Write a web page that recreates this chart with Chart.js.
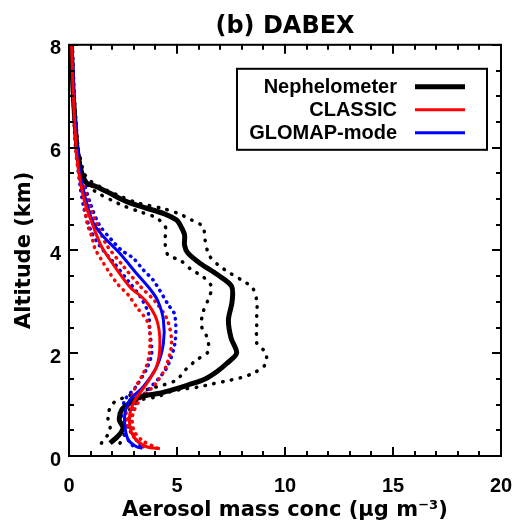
<!DOCTYPE html>
<html>
<head>
<meta charset="utf-8">
<script src="https://cdn.jsdelivr.net/npm/chart.js@4"></script>
<style>
  html, body { margin: 0; background: #fff; }
</style>
</head>
<body>
<canvas id="profile" width="518" height="531"></canvas>
<script>
// series names and colours
const seriesNames = ['Nephelometer', 'CLASSIC', 'GLOMAP-mode'];
const seriesColors = ['#000000', '#ff0000', '#0000ff'];

// axis ranges / tick steps
const xRange = [0, 20];
const yRange = [0, 8];
const xMajor = 5, xMinor = 1;
const yMajor = 2, yMinor = 0.5;

// Nephelometer (mean, lower, upper), altitude in km, mass in ug m-3
const nephAlt = [0.25, 0.4, 0.55, 0.7, 0.9, 1.03, 1.15, 1.22, 1.3, 1.38, 1.5, 1.64, 1.8, 2.0, 2.3, 2.65, 3.0, 3.3, 3.52, 3.75, 3.95, 4.1, 4.3, 4.45, 4.59, 4.72, 4.82, 4.95, 5.11, 5.24, 5.31, 5.5, 5.66, 6.0, 6.5, 7.0, 7.5, 8.0];
const nephMass = [1.9, 2.3, 2.5, 2.33, 2.44, 2.82, 3.3, 4.2, 4.9, 5.5, 6.3, 6.84, 7.3, 7.76, 7.5, 7.38, 7.55, 7.53, 6.9, 6.06, 5.5, 5.35, 5.35, 5.2, 4.98, 4.36, 3.6, 2.67, 1.9, 1.28, 0.82, 0.6, 0.5, 0.37, 0.28, 0.2, 0.15, 0.1];
const nephLoAlt = [0.25, 0.5, 0.76, 1.0, 1.13, 1.25, 1.32, 1.38, 1.48, 1.69, 1.87, 2.03, 2.3, 2.52, 2.78, 3.04, 3.29, 3.49, 3.62, 3.81, 3.91, 4.2, 4.43, 4.63, 4.75, 4.87, 4.95, 5.1, 5.25, 5.4, 5.6, 6.0, 7.0, 8.0];
const nephLo = [1.5, 1.9, 1.8, 1.98, 2.5, 3.3, 3.83, 4.36, 4.98, 5.42, 5.91, 6.44, 6.4, 6.14, 6.19, 6.44, 6.6, 6.2, 5.68, 5.14, 4.58, 4.44, 4.49, 4.06, 3.3, 2.5, 2.1, 1.4, 0.9, 0.7, 0.5, 0.35, 0.2, 0.1];
const nephHiAlt = [0.25, 0.45, 0.65, 0.85, 1.0, 1.09, 1.15, 1.25, 1.3, 1.34, 1.4, 1.46, 1.52, 1.61, 1.77, 2.0, 2.2, 2.45, 2.74, 3.0, 3.27, 3.42, 3.56, 3.72, 3.91, 4.2, 4.46, 4.59, 4.72, 4.82, 4.92, 5.05, 5.2, 5.35, 5.5, 5.75, 6.0, 7.0, 8.0];
const nephHi = [2.36, 2.6, 2.8, 2.75, 3.0, 3.29, 4.06, 4.68, 5.28, 5.97, 6.6, 7.3, 7.92, 8.52, 9.07, 9.12, 8.69, 8.69, 8.69, 8.7, 8.5, 8.0, 7.45, 6.9, 6.48, 6.3, 6.2, 5.68, 5.05, 4.3, 3.2, 2.4, 1.6, 1.0, 0.7, 0.55, 0.4, 0.22, 0.12];

// CLASSIC
const classicAlt = [0.14, 0.18, 0.34, 0.57, 0.83, 1.09, 1.41, 1.74, 2.19, 2.65, 3.03, 3.29, 3.68, 4.07, 4.46, 4.92, 5.37, 5.76, 6.34, 7.0, 8.0];
const classicMass = [4.21, 3.6, 3.06, 2.82, 2.82, 3.06, 3.6, 4.06, 4.21, 4.06, 3.52, 2.82, 2.13, 1.51, 1.13, 0.74, 0.51, 0.38, 0.28, 0.2, 0.12];
const classicLoAlt = [0.18, 0.38, 0.6, 0.85, 1.1, 1.32, 1.61, 1.87, 2.19, 2.58, 2.9, 3.13, 3.33, 3.55, 3.81, 4.04, 4.27, 4.56, 5.11, 5.5, 6.0, 7.0, 8.0];
const classicLo = [3.44, 2.98, 2.7, 2.65, 2.85, 3.06, 3.44, 3.67, 3.75, 3.67, 3.13, 2.75, 2.28, 1.9, 1.51, 1.2, 1.05, 0.82, 0.66, 0.45, 0.3, 0.18, 0.1];
const classicHiAlt = [0.15, 0.3, 0.5, 0.8, 1.1, 1.4, 1.75, 2.2, 2.65, 3.0, 3.3, 3.7, 4.1, 4.5, 4.9, 5.4, 5.8, 6.5, 7.0, 8.0];
const classicHi = [4.1, 3.4, 3.0, 2.95, 3.3, 4.0, 4.5, 4.75, 4.55, 4.0, 3.3, 2.5, 1.75, 1.3, 0.9, 0.6, 0.45, 0.3, 0.22, 0.14];

// GLOMAP-mode
const glomapAlt = [0.15, 0.18, 0.31, 0.57, 0.83, 1.09, 1.35, 1.74, 2.19, 2.65, 3.03, 3.25, 3.55, 3.94, 4.27, 4.53, 4.92, 5.5, 6.0, 7.0, 8.0];
const glomapMass = [3.4, 3.13, 2.75, 2.59, 2.59, 2.82, 3.44, 4.06, 4.37, 4.37, 4.1, 3.75, 3.13, 2.36, 1.59, 1.13, 0.82, 0.51, 0.38, 0.22, 0.15];
const glomapLoAlt = [0.2, 0.4, 0.6, 0.85, 1.1, 1.35, 1.7, 2.0, 2.39, 2.78, 3.1, 3.4, 3.75, 4.1, 4.4, 4.8, 5.3, 6.0, 7.0, 8.0];
const glomapLo = [2.95, 2.6, 2.45, 2.45, 2.6, 3.1, 3.6, 3.83, 3.75, 3.67, 3.3, 2.75, 2.1, 1.4, 1.0, 0.7, 0.5, 0.33, 0.2, 0.12];
const glomapHiAlt = [0.2, 0.4, 0.7, 1.0, 1.3, 1.7, 2.19, 2.74, 2.94, 3.42, 3.62, 3.85, 4.0, 4.2, 4.5, 4.9, 5.4, 6.0, 7.0, 8.0];
const glomapHi = [3.3, 3.0, 2.85, 3.05, 3.7, 4.5, 4.9, 4.9, 4.6, 3.9, 3.44, 2.97, 2.44, 1.98, 1.4, 1.0, 0.65, 0.42, 0.25, 0.16];

const toPoints = (mass, alt) => mass.map((m, i) => ({ x: m, y: alt[i] }));

const line = (data, color, width, dash, order) => ({
  data,
  borderColor: color,
  borderWidth: width,
  borderDash: dash,
  borderCapStyle: dash.length ? 'round' : 'butt',
  order,
  showLine: true,
  pointRadius: 0,
  tension: 0.3,
  fill: false,
});

const tickFont = { family: 'Liberation Sans', size: 20, weight: 'bold' };
const titleFont = { family: 'DejaVu Sans', size: 21, weight: 'bold' };

// inward IDL-style ticks on all four sides + frame
const frameTicks = {
  id: 'frameTicks',
  afterDatasetsDraw(chart) {
    const { ctx, chartArea: a, scales: { x, y } } = chart;
    ctx.save();
    ctx.strokeStyle = '#000';
    ctx.lineWidth = 2;
    const seg = (x0, y0, x1, y1) => {
      ctx.beginPath();
      ctx.moveTo(x0, y0);
      ctx.lineTo(x1, y1);
      ctx.stroke();
    };
    for (let v = xRange[0]; v <= xRange[1] + 1e-9; v += xMinor) {
      const px = Math.round(x.getPixelForValue(v));
      const len = Math.abs(v % xMajor) < 1e-9 ? 9 : 5;
      seg(px, a.bottom, px, a.bottom - len);
      seg(px, a.top, px, a.top + len);
    }
    for (let v = yRange[0]; v <= yRange[1] + 1e-9; v += yMinor) {
      const py = Math.round(y.getPixelForValue(v));
      const len = Math.abs(v % yMajor) < 1e-9 ? 9 : 5;
      seg(a.left, py, a.left + len, py);
      seg(a.right, py, a.right - len, py);
    }
    ctx.strokeRect(a.left, a.top, a.width, a.height);
    ctx.restore();
  },
};

// boxed legend with labels right-aligned and line samples to the right
const boxLegend = {
  id: 'boxLegend',
  afterDraw(chart) {
    const { ctx, chartArea: a } = chart;
    const bx = a.left + 168, by = a.top + 24;
    ctx.save();
    ctx.fillStyle = '#fff';
    ctx.fillRect(bx, by, 250, 81);
    ctx.strokeStyle = '#000';
    ctx.lineWidth = 2;
    ctx.strokeRect(bx, by, 250, 81);
    ctx.font = 'bold 20px "Liberation Sans"';
    ctx.textAlign = 'right';
    ctx.textBaseline = 'middle';
    seriesNames.forEach((name, i) => {
      const ty = by + 18 + i * 23;
      ctx.fillStyle = '#000';
      ctx.fillText(name, bx + 160, ty + 1);
      ctx.strokeStyle = seriesColors[i];
      ctx.lineWidth = i === 0 ? 5 : 3;
      ctx.beginPath();
      ctx.moveTo(bx + 178, ty);
      ctx.lineTo(bx + 228, ty);
      ctx.stroke();
    });
    ctx.restore();
  },
};

new Chart(document.getElementById('profile'), {
  type: 'scatter',
  data: {
    datasets: [
      line(toPoints(nephLo, nephLoAlt), seriesColors[0], 3.5, [0.5, 8.5], 9),
      line(toPoints(nephHi, nephHiAlt), seriesColors[0], 3.5, [0.5, 8.5], 8),
      line(toPoints(glomapLo, glomapLoAlt), seriesColors[2], 3.5, [0.5, 6], 7),
      line(toPoints(glomapHi, glomapHiAlt), seriesColors[2], 3.5, [0.5, 6], 6),
      line(toPoints(classicLo, classicLoAlt), seriesColors[1], 3.5, [0.5, 6], 5),
      line(toPoints(classicHi, classicHiAlt), seriesColors[1], 3.5, [0.5, 6], 4),
      line(toPoints(nephMass, nephAlt), seriesColors[0], 5, [], 3),
      line(toPoints(glomapMass, glomapAlt), seriesColors[2], 3, [], 2),
      line(toPoints(classicMass, classicAlt), seriesColors[1], 3, [], 1),
    ],
  },
  options: {
    responsive: false,
    animation: false,
    devicePixelRatio: 1,
    layout: { padding: { left: 0, right: 17, top: 0, bottom: 0 } },
    scales: {
      x: {
        type: 'linear',
        min: xRange[0],
        max: xRange[1],
        grid: { display: false, drawTicks: false },
        border: { display: false },
        ticks: { stepSize: xMajor, color: '#000', font: tickFont, padding: 18, maxRotation: 0 },
        title: {
          display: true,
          text: 'Aerosol mass conc (\u03bcg m\u207b\u00b3)',
          color: '#000',
          font: titleFont,
          padding: { top: 0, bottom: 8 },
        },
        afterFit(scale) {
          scale.height = 75;
          scale.paddingLeft = 0;
          scale.paddingRight = 0;
        },
      },
      y: {
        type: 'linear',
        min: yRange[0],
        max: yRange[1],
        grid: { display: false, drawTicks: false },
        border: { display: false },
        ticks: { stepSize: yMajor, color: '#000', font: tickFont, padding: 8, labelOffset: 4 },
        title: {
          display: true,
          text: 'Altitude (km)',
          color: '#000',
          font: titleFont,
          padding: { top: 12, bottom: 0 },
        },
        afterFit(scale) {
          scale.width = 69;
          scale.paddingTop = 0;
          scale.paddingBottom = 0;
        },
      },
    },
    plugins: {
      legend: { display: false },
      tooltip: { enabled: false },
      title: {
        display: true,
        fullSize: false,
        text: '(b) DABEX',
        color: '#000',
        font: { family: 'DejaVu Sans', size: 24, weight: 'bold' },
        padding: { top: 12, bottom: 4 },
      },
    },
  },
  plugins: [frameTicks, boxLegend],
});
</script>
</body>
</html>
